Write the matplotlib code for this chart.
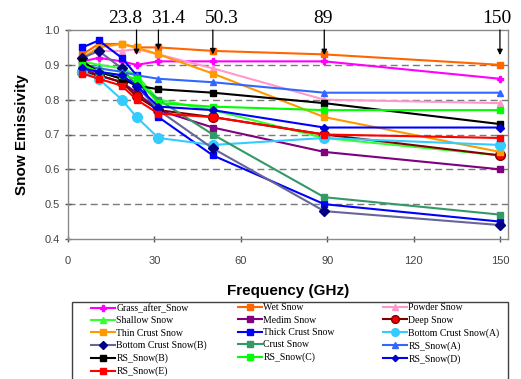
import matplotlib
matplotlib.use("Agg")
import matplotlib.pyplot as plt
from matplotlib.patches import Rectangle

# ---------------- data ----------------
freqs = [5, 10.65, 18.7, 23.8, 31.4, 50.3, 89, 150]

grass_after_snow = [0.91, 0.92, 0.91, 0.90, 0.91, 0.91, 0.91, 0.86]
wet_snow         = [0.93, 0.96, 0.96, 0.95, 0.95, 0.94, 0.93, 0.90]
powder_snow      = [0.92, 0.94, 0.94, 0.945, 0.93, 0.89, 0.80, 0.79]
shallow_snow     = [0.91, 0.90, 0.89, 0.87, 0.80, 0.77, 0.69, 0.64]
medim_snow       = [0.89, 0.87, 0.85, 0.82, 0.77, 0.72, 0.65, 0.60]
deep_snow        = [0.88, 0.87, 0.85, 0.81, 0.77, 0.75, 0.70, 0.64]
thin_crust_snow  = [0.92, 0.95, 0.96, 0.95, 0.93, 0.875, 0.75, 0.65]
thick_crust_snow = [0.95, 0.97, 0.92, 0.87, 0.75, 0.64, 0.50, 0.45]
bottom_crust_a   = [0.88, 0.86, 0.80, 0.75, 0.69, 0.67, 0.69, 0.67]
bottom_crust_b   = [0.92, 0.94, 0.89, 0.84, 0.77, 0.66, 0.48, 0.44]
crust_snow       = [0.89, 0.88, 0.86, 0.85, 0.80, 0.70, 0.52, 0.47]
rs_snow_a        = [0.90, 0.89, 0.88, 0.87, 0.86, 0.85, 0.82, 0.82]
rs_snow_b        = [0.91, 0.88, 0.86, 0.84, 0.83, 0.82, 0.79, 0.73]
rs_snow_c        = [0.90, 0.88, 0.87, 0.86, 0.79, 0.78, 0.77, 0.77]
rs_snow_d        = [0.89, 0.88, 0.87, 0.84, 0.78, 0.77, 0.72, 0.72]
rs_snow_e        = [0.875, 0.86, 0.84, 0.80, 0.76, 0.75, 0.70, 0.69]

series_labels = ["Grass_after_Snow", "Wet Snow", "Powder Snow",
                 "Shallow Snow", "Medim Snow", "Deep Snow",
                 "Thin Crust Snow", "Thick Crust Snow", "Bottom Crust Snow(A)",
                 "Bottom Crust Snow(B)", "Crust Snow", "RS_Snow(A)",
                 "RS_Snow(B)", "RS_Snow(C)", "RS_Snow(D)",
                 "RS_Snow(E)"]
series_values = [grass_after_snow, wet_snow, powder_snow,
                 shallow_snow, medim_snow, deep_snow,
                 thin_crust_snow, thick_crust_snow, bottom_crust_a,
                 bottom_crust_b, crust_snow, rs_snow_a,
                 rs_snow_b, rs_snow_c, rs_snow_d,
                 rs_snow_e]

channel_freqs = [23.8, 31.4, 50.3, 89, 150]
channel_labels = ["23.8", "31.4", "50.3", "89", "150"]

xticks = [0, 30, 60, 90, 120, 150]
yticks = [0.4, 0.5, 0.6, 0.7, 0.8, 0.9, 1.0]

# ---------------- styles ----------------
styles = [
    dict(color="#FF00FF", marker="P", ms=5, mfc="#FF00FF", mec="#FF00FF"),
    dict(color="#FF6600", marker="s", ms=5, mfc="#FF6600", mec="#FF6600"),
    dict(color="#FF99CC", marker="^", ms=5, mfc="#FF99CC", mec="#FF99CC"),
    dict(color="#33FF33", marker="^", ms=5, mfc="#33FF33", mec="#33FF33"),
    dict(color="#800080", marker="s", ms=5, mfc="#800080", mec="#800080"),
    dict(color="#800000", marker="o", ms=7, mfc="#EE0000", mec="#800000"),
    dict(color="#FF9900", marker="s", ms=5, mfc="#FF9900", mec="#FF9900"),
    dict(color="#0000FF", marker="s", ms=5, mfc="#0000FF", mec="#0000FF"),
    dict(color="#33CCFF", marker="o", ms=7, mfc="#33CCFF", mec="#33CCFF"),
    dict(color="#666699", marker="D", ms=5, mfc="#000080", mec="#000080"),
    dict(color="#339966", marker="s", ms=5, mfc="#339966", mec="#339966"),
    dict(color="#3366FF", marker="^", ms=5, mfc="#3366FF", mec="#3366FF"),
    dict(color="#000000", marker="s", ms=5, mfc="#000000", mec="#000000"),
    dict(color="#00FF00", marker="s", ms=5, mfc="#00FF00", mec="#00FF00"),
    dict(color="#0000FF", marker="D", ms=4, mfc="#0000CC", mec="#0000CC"),
    dict(color="#FF0000", marker="s", ms=5, mfc="#FF0000", mec="#FF0000"),
]

fig = plt.figure(figsize=(5.21, 3.79), dpi=100)
W, H = 521, 379
ax = fig.add_axes([68 / W, 1 - 239 / H, (508 - 68) / W, (239 - 30) / H])

handles = []
for lab, vals, st in zip(series_labels, series_values, styles):
    ln, = ax.plot(freqs, vals, color=st["color"], lw=1.5, marker=st["marker"],
                  ms=st["ms"], mfc=st["mfc"], mec=st["mec"], label=lab)
    handles.append(ln)

ax.set_xlim(0, 152.8)
ax.set_ylim(0.4, 1.0)
ax.set_xticks(xticks)
ax.set_yticks(yticks)
ax.set_yticklabels([f"{v:.1f}" for v in yticks])
for y in yticks[1:-1]:
    ax.axhline(y, color="#7a7a7a", lw=1, ls=(0, (5, 3)), zorder=0)
for sp in ax.spines.values():
    sp.set_color("#8a8a8a")
    sp.set_linewidth(1)
ax.tick_params(direction="inout", length=5, width=1, color="#555555",
               labelsize=8, labelcolor="#444444")
for t in ax.get_xticklabels() + ax.get_yticklabels():
    t.set_fontfamily("Liberation Sans")
ax.tick_params(axis="x", pad=10)

ax.set_xlabel("Frequency (GHz)", fontsize=11, fontweight="bold",
              family="Liberation Sans", labelpad=13)
ax.set_ylabel("Snow Emissivity", fontsize=11, fontweight="bold",
              family="Liberation Sans", labelpad=11)

# channel arrows
label_offsets = [-4.0, 3.3, 3.2, -0.5, -1.0]
tips = [0.928, 0.942, 0.93, 0.928, 0.928]
for f, lab, off, tip in zip(channel_freqs, channel_labels, label_offsets, tips):
    ax.annotate("", xy=(f, tip), xytext=(f, 1.0),
                arrowprops=dict(arrowstyle="-|>", color="black", lw=0.9,
                                mutation_scale=8, shrinkA=0, shrinkB=0),
                annotation_clip=False)
    ax.text(f + off, 1.0 + 0.01, lab, ha="center", va="bottom",
            fontsize=14, family="Liberation Serif", clip_on=False)

# legend
fig.patches.append(Rectangle((71.7 / W, -0.05), (508 - 71.7) / W,
                             1 - 302 / H + 0.05, transform=fig.transFigure,
                             fill=False, edgecolor="#404040", lw=1))
col_idx = [[0, 3, 6, 9, 12, 15], [1, 4, 7, 10, 13], [2, 5, 8, 11, 14]]
col_x = [91, 238, 383]
for idx, cx in zip(col_idx, col_x):
    fig.legend([handles[i] for i in idx], [series_labels[i] for i in idx],
               loc="upper left", bbox_to_anchor=(cx / W, 1 - 303.5 / H),
               bbox_transform=fig.transFigure, frameon=False,
               prop=dict(family="Liberation Serif", size=7),
               handlelength=2.5, handletextpad=0.1, labelspacing=0.34,
               borderpad=0, borderaxespad=0, markerscale=0.8)

fig.savefig("out.png", dpi=100)
